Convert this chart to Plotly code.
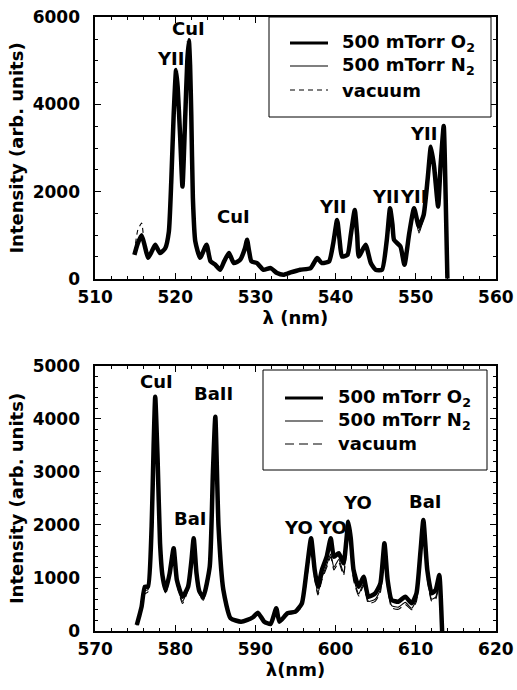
import plotly.graph_objects as go

# ---------------- Upper panel: 510-560 nm ----------------
wl_top = [514.9, 515.3, 515.8, 516.2, 516.6, 517.0, 517.5, 518.1, 518.75, 519.2,
          519.5, 519.8, 520.1, 520.3, 520.6, 520.9, 521.25, 521.5, 521.7, 521.85,
          522.0, 522.2, 522.5, 523.1, 523.9, 524.4, 525.0, 525.6, 526.1, 526.7,
          527.3, 528.1, 528.7, 528.96, 529.2, 529.5, 530.2, 531.0, 531.9, 532.7,
          533.5, 534.4, 535.6, 536.9, 537.7, 538.3, 539.2, 539.7, 540.2, 540.5,
          540.8, 541.5, 541.9, 542.4, 542.7, 542.9, 543.75, 544.4, 545.0, 545.8,
          546.4, 546.8, 547.1, 547.3, 548.1, 548.6, 549.2, 549.8, 550.4, 551.0,
          551.5, 551.9, 552.3, 552.8, 553.1, 553.5, 553.75, 553.96]

o2_top = [550, 800, 1000, 750, 480, 600, 780, 590, 700, 1080,
          2230, 3755, 4790, 4400, 3300, 2115, 3755, 5000, 5470, 4900,
          3755, 1850, 855, 480, 780, 400, 320, 205, 400, 590,
          360, 435, 700, 893, 650, 400, 360, 206, 245, 130,
          92, 145, 206, 245, 474, 360, 400, 800, 1351, 900,
          510, 550, 1000, 1580, 1000, 510, 780, 360, 206, 206,
          893, 1620, 1250, 893, 740, 320, 1046, 1620, 1198, 1466,
          2300, 3030, 2572, 1656, 2572, 3504, 1809, 0]

n2_top = [560, 780, 950, 720, 470, 590, 760, 580, 690, 1060,
          2200, 3700, 4750, 4150, 3250, 2150, 3700, 4950, 5420, 4850,
          3700, 1820, 840, 470, 760, 390, 310, 200, 390, 570,
          350, 430, 690, 870, 640, 390, 350, 200, 240, 125,
          95, 150, 200, 240, 460, 350, 390, 780, 1320, 880,
          500, 540, 980, 1540, 980, 500, 760, 350, 200, 200,
          870, 1580, 1230, 870, 720, 320, 1020, 1580, 1050, 1400,
          2250, 2980, 2520, 1620, 2520, 3450, 1780, 0]

vac_top = [600, 1100, 1280, 700, 490, 610, 790, 600, 710, 1090,
           2240, 3760, 4780, 4350, 3280, 2100, 3740, 4980, 5450, 4880,
           3740, 1840, 850, 480, 790, 410, 320, 210, 410, 600,
           365, 440, 710, 900, 660, 410, 365, 210, 250, 135,
           95, 150, 210, 250, 480, 365, 405, 810, 1360, 910,
           515, 555, 1010, 1590, 1010, 515, 790, 365, 210, 210,
           900, 1630, 1260, 900, 750, 330, 1050, 1630, 1100, 1480,
           2310, 3040, 2580, 1660, 2580, 3510, 1820, 0]

lab_top = ["YII", "CuI", "CuI", "YII", "YII", "YII", "YII"]
lab_top_x = [519.4, 521.6, 527.25, 539.6, 546.25, 549.75, 551.0]
lab_top_y = [5060, 5750, 1420, 1650, 1880, 1880, 3340]

# ---------------- Lower panel: 570-620 nm ----------------
wl_bot = [575.2, 575.5, 575.8, 576.2, 576.6, 577.05, 577.3, 577.5, 577.8, 578.1,
          578.4, 578.8, 579.3, 579.8, 580.2, 580.9, 581.6, 582.0, 582.3, 582.65,
          583.0, 583.5, 584.3, 584.7, 585.0, 585.4, 586.0, 586.9, 588.2, 589.0,
          589.7, 590.3, 591.1, 591.9, 592.6, 593.0, 594.0, 595.0, 595.8, 596.4,
          596.95, 597.4, 597.8, 598.3, 598.9, 599.4, 599.8, 600.4, 601.0, 601.6,
          601.9, 602.25, 602.9, 603.5, 604.1, 604.95, 605.6, 606.1, 606.5, 607.0,
          607.85, 608.7, 609.5, 610.1, 610.6, 610.96, 611.45, 612.0, 612.5, 612.95,
          613.2, 613.3]

o2_bot = [113, 280, 460, 836, 836, 1968, 3500, 4420, 3227, 1655,
          1050, 774, 1088, 1560, 962, 647, 836, 1300, 1749, 1088,
          750, 647, 1213, 3000, 4044, 1968, 774, 240, 176, 208,
          260, 346, 176, 132, 428, 176, 334, 364, 523, 1151,
          1749, 1151, 836, 1151, 1402, 1749, 1402, 1466, 1277, 2062,
          1750, 1151, 836, 1025, 647, 711, 900, 1655, 962, 585,
          553, 647, 523, 711, 1500, 2095, 1151, 711, 774, 1057,
          396, 0]

n2_bot = [110, 270, 440, 760, 780, 1900, 3420, 4350, 3150, 1600,
          1000, 720, 1040, 1500, 920, 560, 800, 1260, 1700, 1040,
          700, 600, 1170, 2940, 3980, 1920, 740, 230, 170, 200,
          250, 330, 170, 128, 410, 170, 320, 350, 480, 1000,
          1600, 1020, 720, 1000, 1250, 1450, 1200, 1350, 1100, 1900,
          1600, 1000, 700, 900, 560, 600, 780, 1520, 850, 480,
          450, 540, 430, 600, 1380, 1960, 1020, 600, 640, 900,
          330, 0]

vac_bot = [105, 260, 420, 700, 740, 1860, 3380, 4300, 3100, 1560,
           980, 690, 1010, 1470, 890, 520, 770, 1230, 1680, 1010,
           680, 580, 1150, 2920, 3960, 1900, 720, 225, 165, 195,
           245, 320, 165, 125, 400, 165, 310, 340, 460, 960,
           1560, 980, 680, 960, 1200, 1400, 1150, 1300, 1050, 1850,
           1560, 960, 660, 860, 520, 560, 730, 1480, 800, 440,
           410, 500, 400, 560, 1340, 1920, 980, 560, 600, 850,
           310, 0]

lab_bot = ["CuI", "BaII", "BaI", "YO", "YO", "YO", "BaI"]
lab_bot_x = [577.6, 584.8, 581.9, 595.4, 599.6, 602.8, 611.2]
lab_bot_y = [4700, 4490, 2130, 1960, 1960, 2415, 2435]

names = ["500 mTorr O<sub>2</sub>", "500 mTorr N<sub>2</sub>", "vacuum"]

FONT = "DejaVu Sans"
W, H = 517, 690
fig = go.Figure()


def line_styles(dash_vac):
    return [dict(color="black", width=4.5),
            dict(color="black", width=1.1),
            dict(color="black", width=1.1, dash=dash_vac)]


def add_panel(wl, ys, xa, ya, dash_vac):
    styles = line_styles(dash_vac)
    # thin traces first so the thick O2 trace is drawn on top
    for i in [2, 1, 0]:
        st = dict(styles[i], shape="spline", smoothing=0.5)
        fig.add_trace(go.Scatter(x=wl, y=ys[i], mode="lines", name=names[i],
                                 line=st, xaxis=xa, yaxis=ya, showlegend=False))


def add_key(box, line_x, text_x, rows, dash_vac):
    """Framed key in pixel units of the page: box=(x0, y0, x1, y1)."""
    px = lambda v: v / W
    py = lambda v: 1 - v / H
    fig.add_shape(type="rect", xref="paper", yref="paper",
                  x0=px(box[0]), x1=px(box[2]), y0=py(box[1]), y1=py(box[3]),
                  line=dict(color="black", width=1), fillcolor="white", layer="above")
    for style, name, row in zip(line_styles(dash_vac), names, rows):
        fig.add_shape(type="line", xref="paper", yref="paper",
                      x0=px(line_x[0]), x1=px(line_x[1]), y0=py(row), y1=py(row),
                      line=dict(color="black", width=min(style["width"], 3),
                                dash=style.get("dash", "solid")), layer="above")
        fig.add_annotation(x=px(text_x), y=py(row), xref="paper", yref="paper",
                           text=name, showarrow=False, xanchor="left", yanchor="middle",
                           font=dict(family=FONT, size=18, color="black", weight="bold"))


add_panel(wl_top, [o2_top, n2_top, vac_top], "x", "y", "5px,4px")
add_panel(wl_bot, [o2_bot, n2_bot, vac_bot], "x2", "y2", "9px,5px")

add_key((269, 17, 491, 117), (290, 328), 340, (43, 66, 90), "5px,4px")
add_key((263, 370, 487, 470), (285, 323), 336, (398, 421, 444), "9px,5px")

for t, x, y in zip(lab_top, lab_top_x, lab_top_y):
    fig.add_annotation(x=x, y=y, xref="x", yref="y", text=t, showarrow=False,
                       font=dict(family=FONT, size=18, color="black", weight="bold"))
for t, x, y in zip(lab_bot, lab_bot_x, lab_bot_y):
    fig.add_annotation(x=x, y=y, xref="x2", yref="y2", text=t, showarrow=False,
                       font=dict(family=FONT, size=18, color="black", weight="bold"))

tickfont = dict(family=FONT, size=17, color="black", weight="bold")
titlefont = dict(family=FONT, size=18, color="black", weight="bold")


def xaxis(rng, title, anchor):
    return dict(range=rng, dtick=10, tick0=rng[0], ticks="inside", ticklen=6,
                tickwidth=1, tickcolor="black", showline=True, linecolor="black",
                linewidth=1.5, mirror="allticks", showgrid=False, zeroline=False,
                tickfont=tickfont, anchor=anchor, domain=[0.184, 0.959],
                automargin=False,
                minor=dict(dtick=2, ticks="inside", ticklen=3, tickcolor="black"),
                title=dict(text=title, font=titlefont, standoff=1),
                ticklabelstandoff=2)


def yaxis(rng, dt, mdt, domain, anchor):
    return dict(range=rng, dtick=dt, ticks="inside", ticklen=6, tickwidth=1,
                tickcolor="black", showline=True, linecolor="black", linewidth=1.5,
                mirror="allticks", showgrid=False, zeroline=False, tickfont=tickfont,
                domain=domain, anchor=anchor, automargin=False,
                minor=dict(dtick=mdt, ticks="inside", ticklen=3, tickcolor="black"),
                title=dict(text="Intensity (arb. units)", font=titlefont, standoff=4),
                ticklabelstandoff=10)


fig.update_layout(
    width=W, height=H,
    margin=dict(l=0, r=0, t=0, b=0, autoexpand=False),
    paper_bgcolor="white", plot_bgcolor="white", showlegend=False,
    xaxis=xaxis([510, 560], "λ (nm)", "y"),
    yaxis=yaxis([0, 6000], 2000, 500, [0.596, 0.975], "x"),
    xaxis2=xaxis([570, 620], "λ(nm)", "y2"),
    yaxis2=yaxis([0, 5000], 1000, 200, [0.0855, 0.4696], "x2"),
)

fig.write_html("out.html")
